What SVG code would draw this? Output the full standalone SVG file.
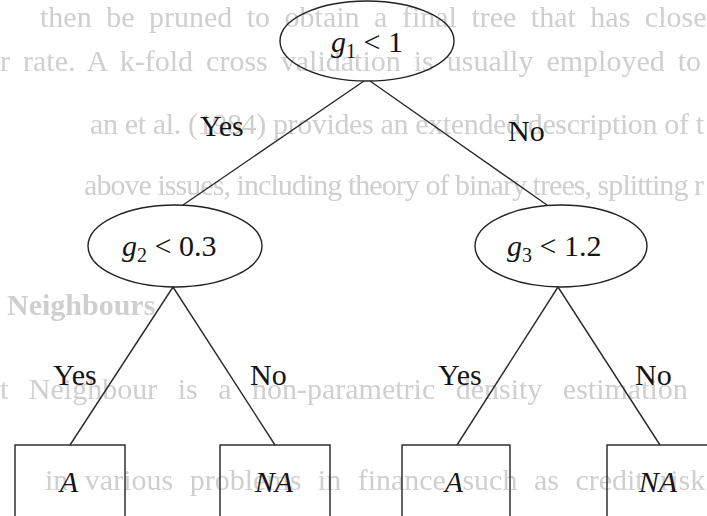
<svg xmlns="http://www.w3.org/2000/svg" width="707" height="516" viewBox="0 0 707 516">
  <defs>
    <filter id="soft" x="-5%" y="-20%" width="110%" height="140%">
      <feGaussianBlur stdDeviation="0.7"/>
    </filter>
    <style>
      .ghost { font-family: "Liberation Serif", "Times New Roman", serif; font-size: 30px; fill: #cfcfcf; }
      .ghost-b { font-weight: bold; }
      .node { fill: none; stroke: #222; stroke-width: 1.4; }
      .edge { fill: none; stroke: #2a2a2a; stroke-width: 1.4; }
      .lbl { font-family: "Liberation Serif", "Times New Roman", serif; font-size: 30px; fill: #141414; }
      .var { font-style: italic; }
      .sub { font-size: 20px; }
    </style>
  </defs>

  <rect width="707" height="516" fill="#ffffff"/>

  <!-- text from the reverse side of the page, showing through -->
  <g id="show-through" filter="url(#soft)">
    <text class="ghost" x="40" y="27" word-spacing="7">then be pruned to obtain a final tree that has close</text>
    <text class="ghost" x="0" y="71" word-spacing="5.5">r rate. A k-fold cross validation is usually employed to</text>
    <text class="ghost" x="90" y="134" font-size="29" textLength="614" lengthAdjust="spacing">an et al. (1984) provides an extended description of t</text>
    <text class="ghost" x="84" y="195" font-size="28" textLength="620" lengthAdjust="spacing">above issues, including theory of binary trees, splitting r</text>
    <text class="ghost ghost-b" x="7" y="315">Neighbours</text>
    <text class="ghost" x="0" y="399" word-spacing="13">t Neighbour is a non-parametric density estimation</text>
    <text class="ghost" x="45" y="490" word-spacing="9">in various problems in finance such as credit risk</text>
  </g>

  <!-- branches -->
  <g id="edges">
    <line class="edge" x1="364" y1="81" x2="183" y2="205"/>
    <line class="edge" x1="370" y1="81" x2="547" y2="205"/>
    <line class="edge" x1="173" y1="287" x2="70" y2="445"/>
    <line class="edge" x1="173" y1="287" x2="275" y2="445"/>
    <line class="edge" x1="558" y1="287" x2="457" y2="445"/>
    <line class="edge" x1="558" y1="287" x2="660" y2="445"/>
  </g>

  <!-- branch labels -->
  <g id="edge-labels" class="lbl">
    <text x="200" y="136">Yes</text>
    <text x="508" y="141">No</text>
    <text x="53" y="385">Yes</text>
    <text x="250" y="385">No</text>
    <text x="438" y="385">Yes</text>
    <text x="635" y="385">No</text>
  </g>

  <!-- split nodes -->
  <g id="n-g1">
    <ellipse class="node" cx="367" cy="41" rx="87" ry="40"/>
    <text class="lbl" x="331" y="52"><tspan class="var">g</tspan><tspan class="sub" dy="6">1</tspan><tspan dy="-6"> &lt; 1</tspan></text>
  </g>
  <g id="n-g2">
    <ellipse class="node" cx="175" cy="246" rx="87" ry="41"/>
    <text class="lbl" x="122" y="256"><tspan class="var">g</tspan><tspan class="sub" dy="6">2</tspan><tspan dy="-6"> &lt; 0.3</tspan></text>
  </g>
  <g id="n-g3">
    <ellipse class="node" cx="561" cy="246" rx="86" ry="41"/>
    <text class="lbl" x="507" y="256"><tspan class="var">g</tspan><tspan class="sub" dy="6">3</tspan><tspan dy="-6"> &lt; 1.2</tspan></text>
  </g>

  <!-- leaves -->
  <g id="leaf-1">
    <rect class="node" x="15" y="445" width="110" height="90"/>
    <text class="lbl var" x="69" y="492" text-anchor="middle">A</text>
  </g>
  <g id="leaf-2">
    <rect class="node" x="220" y="445" width="110" height="90"/>
    <text class="lbl var" x="274" y="492" text-anchor="middle">NA</text>
  </g>
  <g id="leaf-3">
    <rect class="node" x="402" y="445" width="108" height="90"/>
    <text class="lbl var" x="454" y="492" text-anchor="middle">A</text>
  </g>
  <g id="leaf-4">
    <rect class="node" x="607" y="445" width="110" height="90"/>
    <text class="lbl var" x="658" y="492" text-anchor="middle">NA</text>
  </g>
</svg>
